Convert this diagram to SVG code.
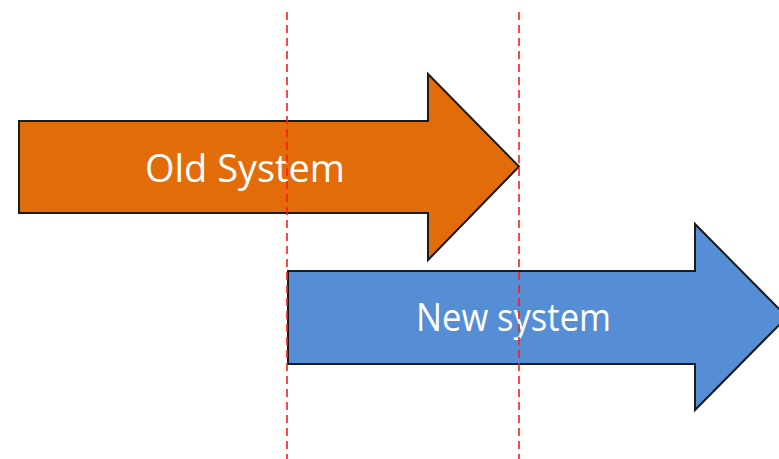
<svg xmlns="http://www.w3.org/2000/svg" width="779" height="459" viewBox="0 0 779 459">
<style>
.arrow{stroke:#1a1a1a;stroke-width:2;stroke-linejoin:miter}
.lbl{font-family:"Open Sans","Liberation Sans",sans-serif;font-size:38px;fill:#ffffff;text-anchor:middle}
.guide{stroke:#ff1a1a;stroke-width:1.6;stroke-dasharray:8 5;fill:none}
</style>
<rect width="779" height="459" fill="#ffffff"/>
<g id="old-system">
<polygon class="arrow" fill="#e36c0a" points="19,121 428,121 428,74 519,166.5 428,260 428,213 19,213"/>
<text class="lbl" x="245" y="182" textLength="200" lengthAdjust="spacingAndGlyphs">Old System</text>
</g>
<g id="new-system">
<polygon class="arrow" fill="#558ed5" points="288,271 695,271 695,224 787,317 695,410 695,364 288,364"/>
<text class="lbl" x="513.5" y="331" textLength="195" lengthAdjust="spacingAndGlyphs">New system</text>
</g>
<g id="connectors">
<line class="guide" x1="287" y1="12" x2="287" y2="459"/>
<line class="guide" x1="519" y1="12" x2="519" y2="459"/>
</g>
</svg>
